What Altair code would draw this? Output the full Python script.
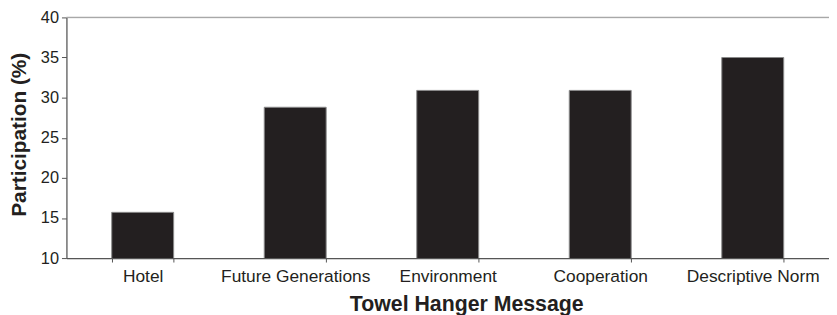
import altair as alt
import pandas as pd

messages = ["Hotel", "Future Generations", "Environment", "Cooperation", "Descriptive Norm"]
participation = [15.7, 28.8, 30.9, 30.9, 35.0]
y_ticks = [10, 15, 20, 25, 30, 35, 40]

df = pd.DataFrame({"message": messages, "value": participation})

FONT = "Liberation Sans"
TXT = "#231f20"

x_enc = alt.X(
    "message:N",
    sort=messages,
    scale=alt.Scale(paddingInner=0.594, paddingOuter=0.297),
    axis=alt.Axis(
        title="Towel Hanger Message",
        titleFont=FONT, titleFontSize=21.5, titleFontWeight="bold", titleColor=TXT,
        titleX=403.7, titleY=52.7, titleBaseline="alphabetic", titleAlign="center",
        labelFont=FONT, labelFontSize=17.5, labelColor=TXT, labelAngle=0,
        labelBaseline="alphabetic", labelPadding=19.7,
        tickBand="extent", tickSize=4, tickColor="#555555",
        domainColor="#555555", domainWidth=1.2,
        grid=False, labelOverlap=False,
    ),
)

y_enc = alt.Y(
    "value:Q",
    scale=alt.Scale(domain=[10, 40], nice=False, zero=False),
    axis=alt.Axis(
        values=y_ticks,
        title="Participation (%)",
        titleFont=FONT, titleFontSize=21, titleFontWeight="bold", titleColor=TXT,
        titleAngle=270, titleX=-41, titleY=118, titleBaseline="alphabetic",
        titleAlign="center",
        labelFont=FONT, labelFontSize=16.5, labelColor=TXT, labelPadding=3,
        tickSize=5, tickColor="#555555",
        domainColor="#555555", domainWidth=1.2,
        grid=False,
    ),
)

bars = alt.Chart(df).mark_bar(
    color="#231f20", stroke="#8a8a8a", strokeWidth=1, clip=True
).encode(x=x_enc, y=y_enc)

top_line = alt.Chart(pd.DataFrame({"v": [y_ticks[-1]]})).mark_rule(
    color="#a8a8a8", strokeWidth=1.2
).encode(y=alt.Y("v:Q"), x=alt.value(0), x2=alt.value(770))

chart = alt.layer(bars, top_line).properties(
    width=770,
    height=243,
    autosize=alt.AutoSizeParams(type="none"),
    padding={"left": 59, "top": 8, "right": 0, "bottom": 58},
).configure_view(stroke=None).configure(background="white")

chart.save("out.html", embed_options={"renderer": "svg", "actions": False})
